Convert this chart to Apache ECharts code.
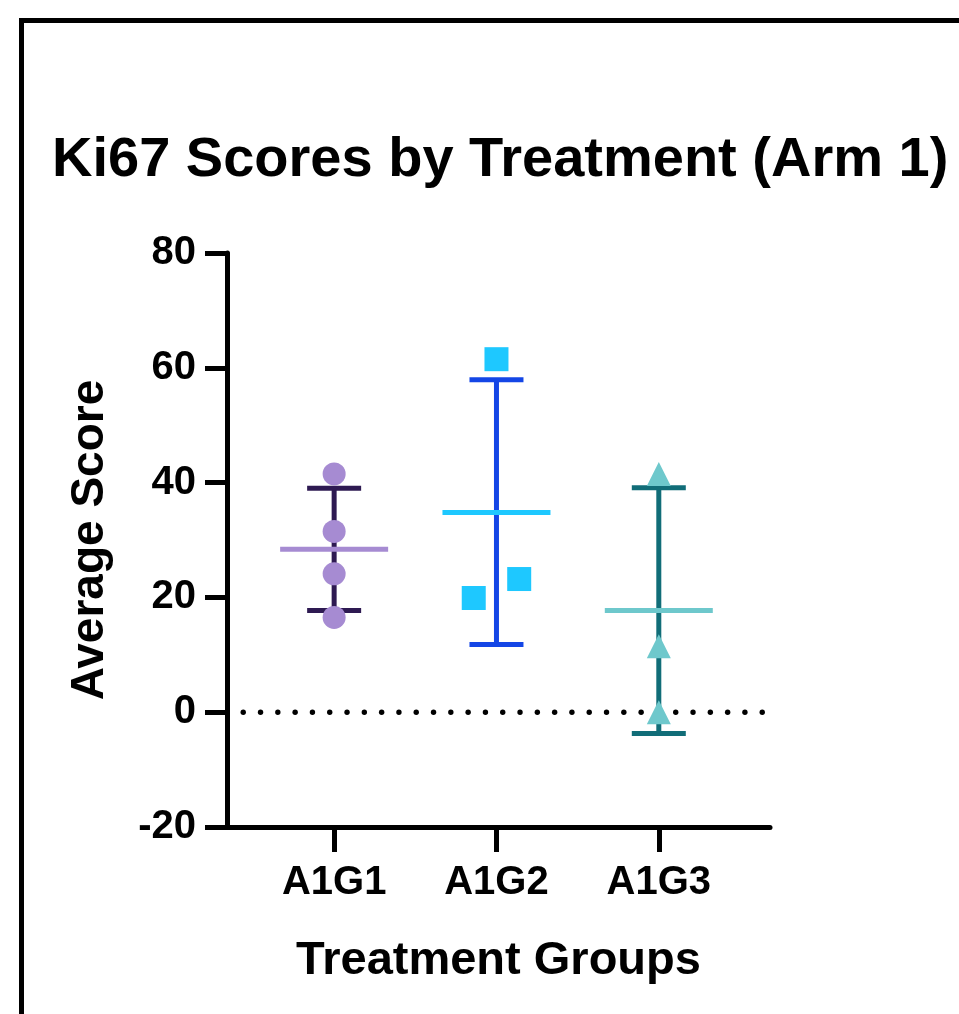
<!DOCTYPE html>
<html>
<head>
<meta charset="utf-8">
<script src="https://cdn.jsdelivr.net/npm/echarts@6/dist/echarts.min.js"></script>
<style>
html,body{margin:0;padding:0;background:#fff;}
#main{width:959px;height:1014px;}
</style>
</head>
<body>
<div id="main"></div>
<script>
// ---- data ----
const categories = ['A1G1', 'A1G2', 'A1G3'];
const g1Values = [41.5, 31.5, 24.1, 16.5];
const g2Values = [61.5, 19.9, 23.2];
const g2Jitter = [0, -0.14, 0.14];
const g3Values = [41.5, 11.5, 0.0];
const groupMeans = [28.4, 34.8, 17.7];
const sdLower = [17.7, 11.8, -3.7];
const sdUpper = [39.0, 57.9, 39.1];
const yTicks = [-20, 0, 20, 40, 60, 80];
const baselineValue = 0;
const baselineExtent = [0.44, 3.66];

// ---- styles ----
const FONT = "'Liberation Sans', Arial, Helvetica, sans-serif";
const pointColors = ['#a68bd2', '#1ec8ff', '#6ec8cc'];
const barColors = ['#2e1a52', '#1446e6', '#116d78'];

const chart = echarts.init(document.getElementById('main'), null, {renderer: 'canvas'});

const errData = categories.map((c, i) => [i + 1, sdLower[i], sdUpper[i], i]);
const meanData = categories.map((c, i) => [i + 1, groupMeans[i], i]);

function renderErr(params, api) {
  const x = api.value(0);
  const lo = api.coord([x, api.value(1)]);
  const hi = api.coord([x, api.value(2)]);
  const idx = api.value(3);
  const hw = 27;
  const st = {stroke: barColors[idx], lineWidth: 5, fill: null};
  return {
    type: 'group',
    children: [
      {type: 'line', shape: {x1: lo[0], y1: lo[1], x2: hi[0], y2: hi[1]}, style: st},
      {type: 'line', shape: {x1: hi[0] - hw, y1: hi[1], x2: hi[0] + hw, y2: hi[1]}, style: st},
      {type: 'line', shape: {x1: lo[0] - hw, y1: lo[1], x2: lo[0] + hw, y2: lo[1]}, style: st}
    ]
  };
}
function renderMean(params, api) {
  const p = api.coord([api.value(0), api.value(1)]);
  const idx = api.value(2);
  const hw = 54;
  return {
    type: 'line',
    shape: {x1: p[0] - hw, y1: p[1], x2: p[0] + hw, y2: p[1]},
    style: {stroke: pointColors[idx], lineWidth: 5, fill: null}
  };
}
// dotted reference line: round dots spaced along the baseline
function renderBaseline(params, api) {
  const a = api.coord([api.value(0), api.value(2)]);
  const b = api.coord([api.value(1), api.value(2)]);
  const step = 17.3, r = 2.7;
  const children = [];
  for (let x = a[0]; x <= b[0] + 0.5; x += step) {
    children.push({type: 'circle', shape: {cx: x, cy: a[1], r: r}, style: {fill: '#000'}});
  }
  return {type: 'group', children: children};
}

const option = {
  backgroundColor: '#fff',
  animation: false,
  title: {
    text: 'Ki67 Scores by Treatment (Arm 1)',
    left: 47,
    top: 128,
    textStyle: {fontFamily: FONT, fontSize: 56, fontWeight: 'bold', color: '#000'}
  },
  graphic: [{
    type: 'rect',
    shape: {x: 21.5, y: 20.5, width: 1100, height: 1100},
    style: {fill: null, stroke: '#000', lineWidth: 5},
    z: 0
  }],
  grid: {left: 227, top: 253, width: 543, height: 574, containLabel: false},
  xAxis: {
    type: 'value',
    min: 0.34,
    max: 3.685,
    name: 'Treatment Groups',
    nameLocation: 'middle',
    nameGap: 111,
    nameTextStyle: {fontFamily: FONT, fontSize: 47, fontWeight: 'bold', color: '#000'},
    axisLine: {show: true, onZero: false, lineStyle: {color: '#000', width: 5}},
    axisTick: {show: true, length: 25, lineStyle: {color: '#000', width: 5}, customValues: [1, 2, 3]},
    axisLabel: {
      show: true, margin: 36, customValues: [1, 2, 3],
      fontFamily: FONT, fontSize: 40, fontWeight: 'bold', color: '#000',
      formatter: v => categories[Math.round(v) - 1]
    },
    splitLine: {show: false}
  },
  yAxis: {
    type: 'value',
    min: yTicks[0],
    max: yTicks[yTicks.length - 1],
    interval: 20,
    name: 'Average Score',
    nameLocation: 'middle',
    nameRotate: 90,
    nameGap: 114,
    nameTextStyle: {fontFamily: FONT, fontSize: 46, fontWeight: 'bold', color: '#000'},
    axisLine: {show: true, onZero: false, lineStyle: {color: '#000', width: 5}},
    axisTick: {show: true, length: 22, lineStyle: {color: '#000', width: 5}},
    axisLabel: {
      show: true, margin: 31,
      fontFamily: FONT, fontSize: 40, fontWeight: 'bold', color: '#000'
    },
    splitLine: {show: false}
  },
  series: [
    {
      type: 'custom', renderItem: renderBaseline,
      data: [[baselineExtent[0], baselineExtent[1], baselineValue]],
      z: 1, silent: true
    },
    {type: 'custom', renderItem: renderErr, data: errData, z: 2, silent: true},
    {type: 'custom', renderItem: renderMean, data: meanData, z: 3, silent: true},
    {
      type: 'scatter', symbol: 'circle', symbolSize: 23,
      itemStyle: {color: pointColors[0], opacity: 1},
      data: g1Values.map(v => [1, v]), z: 4
    },
    {
      type: 'scatter', symbol: 'rect', symbolSize: 24,
      itemStyle: {color: pointColors[1], opacity: 1},
      data: g2Values.map((v, i) => [2 + g2Jitter[i], v]), z: 4
    },
    {
      type: 'scatter', symbol: 'triangle', symbolSize: 24,
      itemStyle: {color: pointColors[2], opacity: 1},
      data: g3Values.map(v => [3, v]), z: 4
    }
  ]
};
chart.setOption(option);
</script>
</body>
</html>
